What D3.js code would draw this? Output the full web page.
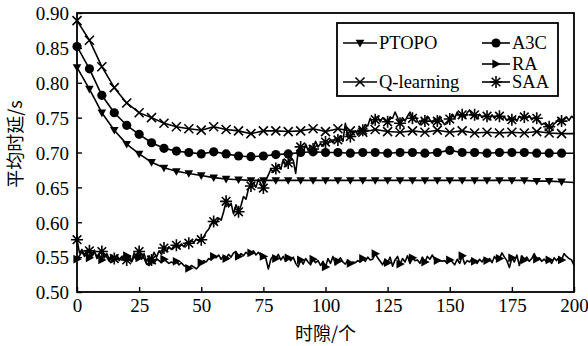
<!DOCTYPE html>
<html>
<head>
<meta charset="utf-8">
<script src="https://d3js.org/d3.v7.min.js"></script>
<style>
  body { margin: 0; background: #fff; }
  svg { display: block; }
  .serif { font-family: "Liberation Serif", "Times New Roman", Times, serif; }
  .cjk { font-family: "Noto Sans CJK SC", sans-serif; }
</style>
</head>
<body>
<div id="chart"></div>
<script>
// x values for the smooth curves (one point every 5 slots)
const steps5 = d3.range(0, 201, 5);
// x values for the noisy curves (one point per slot)
const steps1 = d3.range(0, 201, 1);

const ptopo = [0.822, 0.791, 0.757, 0.732, 0.712, 0.698, 0.686, 0.678, 0.673, 0.670,
  0.667, 0.664, 0.662, 0.661, 0.660, 0.660, 0.660, 0.660, 0.660, 0.660,
  0.660, 0.660, 0.660, 0.660, 0.660, 0.660, 0.660, 0.660, 0.660, 0.660,
  0.660, 0.660, 0.660, 0.660, 0.660, 0.660, 0.660, 0.659, 0.659, 0.658, 0.657];

const a3c = [0.852, 0.820, 0.782, 0.757, 0.739, 0.726, 0.714, 0.706, 0.702, 0.700,
  0.698, 0.701, 0.698, 0.695, 0.694, 0.695, 0.697, 0.698, 0.700, 0.701,
  0.700, 0.700, 0.699, 0.700, 0.700, 0.699, 0.700, 0.700, 0.699, 0.700,
  0.703, 0.700, 0.700, 0.699, 0.700, 0.700, 0.700, 0.699, 0.699, 0.699, 0.699];

const qlearning = [0.889, 0.861, 0.823, 0.793, 0.771, 0.757, 0.750, 0.742, 0.737, 0.734,
  0.732, 0.737, 0.733, 0.731, 0.727, 0.731, 0.731, 0.730, 0.731, 0.734,
  0.730, 0.734, 0.731, 0.729, 0.733, 0.730, 0.729, 0.731, 0.729, 0.732,
  0.729, 0.731, 0.728, 0.729, 0.728, 0.729, 0.728, 0.730, 0.728, 0.727, 0.727];

const ra = [
  0.547, 0.552, 0.558, 0.551, 0.556, 0.549, 0.554, 0.560, 0.548, 0.553,
  0.546, 0.555, 0.550, 0.544, 0.552, 0.547, 0.553, 0.545, 0.550, 0.546,
  0.552, 0.547, 0.543, 0.551, 0.546, 0.549, 0.555, 0.548, 0.540, 0.538,
  0.544, 0.541, 0.548, 0.545, 0.542, 0.547, 0.544, 0.541, 0.543, 0.541,
  0.544, 0.539, 0.542, 0.538, 0.536, 0.534, 0.538, 0.536, 0.533, 0.537,
  0.542, 0.545, 0.543, 0.548, 0.546, 0.551, 0.549, 0.553, 0.547, 0.552,
  0.548, 0.554, 0.550, 0.556, 0.558, 0.551, 0.555, 0.552, 0.557, 0.554,
  0.556, 0.559, 0.553, 0.557, 0.552, 0.551, 0.548, 0.533, 0.547, 0.552,
  0.548, 0.554, 0.546, 0.551, 0.544, 0.549, 0.545, 0.550, 0.541, 0.536,
  0.546, 0.540, 0.548, 0.543, 0.539, 0.547, 0.542, 0.545, 0.538, 0.544,
  0.536, 0.548, 0.541, 0.551, 0.539, 0.544, 0.549, 0.543, 0.540, 0.546,
  0.541, 0.543, 0.542, 0.545, 0.543, 0.548, 0.544, 0.550, 0.546, 0.547,
  0.555, 0.549, 0.544, 0.539, 0.547, 0.542, 0.550, 0.537, 0.546, 0.551,
  0.540, 0.548, 0.543, 0.552, 0.541, 0.549, 0.545, 0.546, 0.541, 0.550,
  0.543, 0.551, 0.547, 0.553, 0.546, 0.545, 0.545, 0.544, 0.545, 0.541,
  0.546, 0.543, 0.539, 0.547, 0.541, 0.552, 0.540, 0.545, 0.543, 0.548,
  0.544, 0.541, 0.547, 0.543, 0.549, 0.545, 0.548, 0.542, 0.551, 0.546,
  0.548, 0.556, 0.550, 0.545, 0.535, 0.549, 0.543, 0.553, 0.538, 0.552,
  0.546, 0.550, 0.544, 0.548, 0.555, 0.547, 0.549, 0.544, 0.547, 0.543,
  0.546, 0.541, 0.549, 0.545, 0.550, 0.546, 0.555, 0.551, 0.548, 0.546,
  0.538];

const saa = [
  0.575, 0.556, 0.561, 0.553, 0.560, 0.559, 0.551, 0.558, 0.550, 0.556,
  0.558, 0.549, 0.555, 0.547, 0.553, 0.548, 0.552, 0.546, 0.551, 0.545,
  0.546, 0.552, 0.544, 0.556, 0.549, 0.558, 0.547, 0.555, 0.543, 0.552,
  0.546, 0.557, 0.550, 0.559, 0.554, 0.563, 0.558, 0.565, 0.561, 0.566,
  0.567, 0.563, 0.569, 0.565, 0.571, 0.570, 0.574, 0.571, 0.576, 0.573,
  0.575, 0.579, 0.586, 0.590, 0.597, 0.601, 0.598, 0.606, 0.603, 0.615,
  0.630, 0.622, 0.627, 0.612, 0.625, 0.615, 0.624, 0.637, 0.633, 0.648,
  0.652, 0.657, 0.650, 0.662, 0.655, 0.649, 0.660, 0.668, 0.676, 0.672,
  0.677, 0.683, 0.676, 0.690, 0.680, 0.685, 0.693, 0.689, 0.670, 0.702,
  0.708, 0.699, 0.712, 0.703, 0.710, 0.705, 0.716, 0.708, 0.713, 0.709,
  0.715, 0.712, 0.719, 0.714, 0.721, 0.718, 0.724, 0.716, 0.742, 0.722,
  0.723, 0.728, 0.731, 0.725, 0.735, 0.732, 0.740, 0.738, 0.749, 0.741,
  0.747, 0.752, 0.744, 0.750, 0.746, 0.744, 0.751, 0.749, 0.758, 0.750,
  0.742, 0.750, 0.745, 0.752, 0.758, 0.749, 0.753, 0.745, 0.740, 0.748,
  0.745, 0.752, 0.747, 0.742, 0.749, 0.745, 0.752, 0.744, 0.740, 0.742,
  0.748, 0.755, 0.749, 0.758, 0.752, 0.754, 0.750, 0.757, 0.761, 0.753,
  0.754, 0.748, 0.755, 0.750, 0.753, 0.752, 0.747, 0.754, 0.749, 0.753,
  0.752, 0.748, 0.751, 0.746, 0.750, 0.747, 0.751, 0.745, 0.752, 0.748,
  0.751, 0.749, 0.753, 0.747, 0.750, 0.749, 0.744, 0.740, 0.742, 0.738,
  0.737, 0.735, 0.741, 0.744, 0.749, 0.745, 0.747, 0.751, 0.746, 0.752,
  0.749];

const yTicks = [0.50, 0.55, 0.60, 0.65, 0.70, 0.75, 0.80, 0.85, 0.90];
const xTicks = [0, 25, 50, 75, 100, 125, 150, 175, 200];

const series = [
  { name: "PTOPO", xs: steps5, ys: ptopo, every: 1, marker: "tridown" },
  { name: "A3C", xs: steps5, ys: a3c, every: 1, marker: "circle" },
  { name: "RA", xs: steps1, ys: ra, every: 5, marker: "triright" },
  { name: "Q-learning", xs: steps5, ys: qlearning, every: 1, marker: "cross" },
  { name: "SAA", xs: steps1, ys: saa, every: 5, marker: "star" }
];

const W = 588, H = 346;
const margin = { left: 77, right: 14, top: 13, bottom: 54 };
const width = W - margin.left - margin.right;
const height = H - margin.top - margin.bottom;

const svg = d3.select("#chart").append("svg")
  .attr("width", W)
  .attr("height", H);

const g = svg.append("g")
  .attr("transform", "translate(" + margin.left + "," + margin.top + ")");

const x = d3.scaleLinear().domain([0, 200]).range([0, width]);
const y = d3.scaleLinear().domain([0.5, 0.9]).range([height, 0]);

// axes, ticks pointing into the plot
const yAxis = g.append("g")
  .call(d3.axisLeft(y).tickValues(yTicks).tickFormat(d3.format(".2f"))
    .tickSizeInner(-5).tickSizeOuter(0).tickPadding(8));
const xAxis = g.append("g")
  .attr("transform", "translate(0," + height + ")")
  .call(d3.axisBottom(x).tickValues(xTicks).tickFormat(d3.format("d"))
    .tickSizeInner(-5).tickSizeOuter(0).tickPadding(6));

[yAxis, xAxis].forEach(a => {
  a.attr("font-family", null).attr("font-size", null);
  a.select(".domain").remove();
  a.selectAll("line").attr("stroke", "#000").attr("stroke-width", 1.4);
  a.selectAll("text").attr("class", "serif").style("font-size", "19px").attr("fill", "#000");
});
yAxis.selectAll("text").attr("dy", "0.36em");
xAxis.selectAll("text").attr("dy", "0.72em");

// markers
function drawMarker(sel, type) {
  if (type === "circle") {
    sel.append("circle").attr("r", 4.6).attr("fill", "#000");
  } else if (type === "tridown") {
    sel.append("path").attr("d", "M-4.3,-3.2L4.3,-3.2L0,4.4Z").attr("fill", "#000");
  } else if (type === "triright") {
    sel.append("path").attr("d", "M-3.6,-4.4L4.8,0L-3.6,4.4Z").attr("fill", "#000");
  } else if (type === "cross") {
    sel.append("path").attr("d", "M-4.5,-4.5L4.5,4.5M-4.5,4.5L4.5,-4.5")
      .attr("stroke", "#000").attr("stroke-width", 1.6).attr("fill", "none");
  } else if (type === "star") {
    sel.append("path").attr("d", "M0,-6L0,6M-6,0L6,0M-4.3,-4.3L4.3,4.3M-4.3,4.3L4.3,-4.3")
      .attr("stroke", "#000").attr("stroke-width", 1.6).attr("fill", "none");
  }
}

const line = d3.line().x(d => x(d[0])).y(d => y(d[1]));

series.forEach(s => {
  const pts = s.xs.map((v, i) => [v, s.ys[i]]);
  g.append("path")
    .datum(pts)
    .attr("d", line)
    .attr("fill", "none")
    .attr("stroke", "#000")
    .attr("stroke-width", 1.6)
    .attr("stroke-linejoin", "round");
  const marks = pts.filter((d, i) => i % s.every === 0 && d[0] < 200);
  g.append("g").selectAll("g")
    .data(marks)
    .join("g")
    .attr("transform", d => "translate(" + x(d[0]) + "," + y(d[1]) + ")")
    .each(function () { drawMarker(d3.select(this), s.marker); });
});

// plot frame
g.append("rect")
  .attr("width", width).attr("height", height)
  .attr("fill", "none").attr("stroke", "#000").attr("stroke-width", 1.8);

// legend
const legend = svg.append("g");
legend.append("rect")
  .attr("x", 337).attr("y", 23).attr("width", 221).attr("height", 73)
  .attr("fill", "#fff").attr("stroke", "#000").attr("stroke-width", 1.8);

const legendPos = {
  "PTOPO": [343, 43], "A3C": [482, 43], "RA": [482, 64],
  "Q-learning": [343, 82], "SAA": [482, 82]
};
series.forEach(s => {
  const [lx, ly] = legendPos[s.name];
  const lw = s.name === "PTOPO" || s.name === "Q-learning" ? 34 : 28;
  const item = legend.append("g").attr("transform", "translate(" + lx + "," + ly + ")");
  item.append("line").attr("x1", 0).attr("x2", lw)
    .attr("stroke", "#000").attr("stroke-width", 1.6);
  drawMarker(item.append("g").attr("transform", "translate(" + lw / 2 + ",0)"), s.marker);
  item.append("text")
    .attr("class", "serif")
    .attr("x", lw + 2).attr("dy", "0.33em")
    .style("font-size", "18.5px")
    .text(s.name);
});

// axis titles
svg.append("text")
  .attr("class", "cjk")
  .attr("x", margin.left + width / 2).attr("y", 334).attr("dy", "0.35em")
  .attr("text-anchor", "middle")
  .style("font-size", "18px")
  .text("时隙/个");

svg.append("text")
  .attr("class", "cjk")
  .attr("transform", "translate(16,144) rotate(-90)")
  .attr("dy", "0.35em")
  .attr("text-anchor", "middle")
  .style("font-size", "18px")
  .text("平均时延/s");
</script>
</body>
</html>
